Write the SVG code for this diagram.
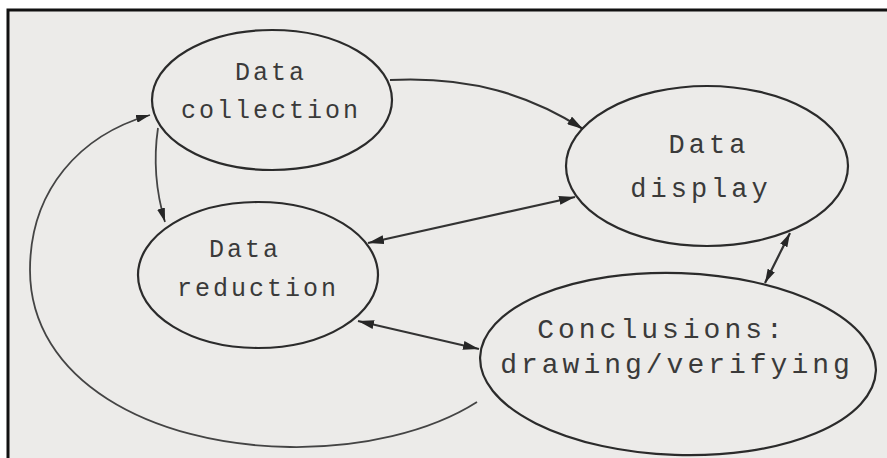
<svg xmlns="http://www.w3.org/2000/svg" width="887" height="458" viewBox="0 0 887 458">
  <style>
    .node { fill: none; stroke: #2b2b2b; stroke-width: 2.2; }
    .lbl { font-family: "Liberation Mono", "DejaVu Sans Mono", monospace; fill: #3a3a3a; text-anchor: middle; }
    .edge { fill: none; stroke: #333; stroke-width: 2.2; }
    .thin { fill: none; stroke: #444; stroke-width: 1.8; }
  </style>
  <defs>
    <marker id="ah" viewBox="0 0 16 9" refX="16" refY="4.5" markerWidth="16" markerHeight="9" markerUnits="userSpaceOnUse" orient="auto-start-reverse">
      <path d="M0,0 L16,4.5 L0,9 z" fill="#262626"/>
    </marker>
    <marker id="ahs" viewBox="0 0 14 8" refX="14" refY="4" markerWidth="14" markerHeight="8" markerUnits="userSpaceOnUse" orient="auto-start-reverse">
      <path d="M0,0 L14,4 L0,8 z" fill="#262626"/>
    </marker>
  </defs>
  <rect x="0" y="0" width="887" height="458" fill="#ecebe9"/>
  <rect x="0" y="0" width="887" height="9" fill="#ffffff"/>
  <rect x="0" y="0" width="7" height="458" fill="#ffffff"/>
  <path d="M8,458 L8,10 L887,10" fill="none" stroke="#111" stroke-width="3"/>

  <g id="connectors">
    <path class="edge" d="M390,80 C470,76 530,95 583,129" marker-end="url(#ah)"/>
    <path class="thin" d="M158,128 Q151,175 165,222" marker-end="url(#ahs)"/>
    <path class="edge" d="M368,243 L575,197" marker-start="url(#ah)" marker-end="url(#ah)"/>
    <path class="edge" d="M358,321 L479,349" marker-start="url(#ah)" marker-end="url(#ah)"/>
    <path class="edge" d="M765,283 L790,233" marker-start="url(#ahs)" marker-end="url(#ahs)"/>
    <path class="thin" d="M477,402 C430,432 360,448 290,447 C150,445 30,380 30,270 C30,190 80,135 150,115" marker-end="url(#ahs)"/>
  </g>

  <g id="data-collection">
    <ellipse class="node" cx="272" cy="100" rx="120" ry="70"/>
    <text class="lbl" x="271" y="80" font-size="25" letter-spacing="3">Data</text>
    <text class="lbl" x="271" y="118" font-size="25" letter-spacing="3">collection</text>
  </g>
  <g id="data-display">
    <ellipse class="node" cx="707" cy="166" rx="141" ry="80"/>
    <text class="lbl" x="709" y="153" font-size="27" letter-spacing="4">Data</text>
    <text class="lbl" x="701" y="197" font-size="27" letter-spacing="4">display</text>
  </g>
  <g id="data-reduction">
    <ellipse class="node" cx="258" cy="275" rx="120" ry="73"/>
    <text class="lbl" x="245" y="257" font-size="25" letter-spacing="3">Data</text>
    <text class="lbl" x="258" y="296" font-size="25" letter-spacing="3">reduction</text>
  </g>
  <g id="conclusions">
    <ellipse class="node" cx="678" cy="364" rx="198" ry="91" transform="rotate(2 678 364)"/>
    <text class="lbl" x="662" y="338" font-size="28" letter-spacing="4">Conclusions:</text>
    <text class="lbl" x="677" y="373" font-size="28" letter-spacing="4">drawing/verifying</text>
  </g>
</svg>
